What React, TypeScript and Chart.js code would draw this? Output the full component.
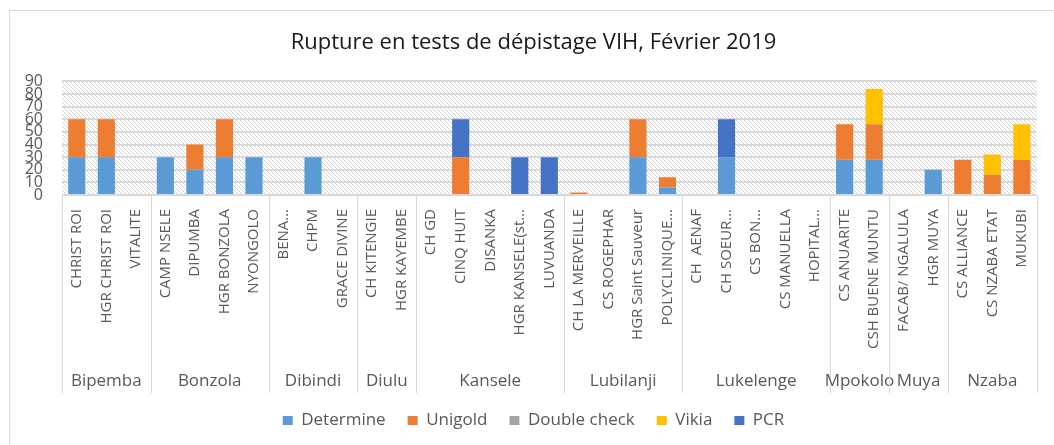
import React, { useEffect, useRef } from 'react';
import { Chart, registerables } from 'chart.js';
Chart.register(...registerables);

const title = 'Rupture en tests de dépistage VIH, Février 2019';

const categories = [
  'CHRIST ROI', 'HGR CHRIST ROI', 'VITALITE',
  'CAMP NSELE', 'DIPUMBA', 'HGR BONZOLA', 'NYONGOLO',
  'BENA…', 'CHPM', 'GRACE DIVINE',
  'CH KITENGIE', 'HGR KAYEMBE',
  'CH GD', 'CINQ HUIT', 'DISANKA', 'HGR KANSELE(st…', 'LUVUANDA',
  'CH LA MERVEILLE', 'CS ROGEPHAR', 'HGR Saint Sauveur', 'POLYCLINIQUE…',
  'CH  AENAF', 'CH SOEUR…', 'CS BON…', 'CS MANUELLA', 'HOPITAL…',
  'CS ANUARITE', 'CSH BUENE MUNTU',
  'FACAB/ NGALULA', 'HGR MUYA',
  'CS ALLIANCE', 'CS NZABA ETAT', 'MUKUBI',
];

const groups = ['Bipemba', 'Bonzola', 'Dibindi', 'Diulu', 'Kansele', 'Lubilanji', 'Lukelenge', 'Mpokolo', 'Muya', 'Nzaba'];
const groupSizes = [3, 4, 3, 2, 5, 4, 5, 2, 2, 3];

const determine = [30, 30, 0, 30, 20, 30, 30, 0, 30, 0, 0, 0, 0, 0, 0, 0, 0, 0, 0, 30, 6, 0, 30, 0, 0, 0, 28, 28, 0, 20, 0, 0, 0];
const unigold = [30, 30, 0, 0, 20, 30, 0, 0, 0, 0, 0, 0, 0, 30, 0, 0, 0, 2, 0, 30, 8, 0, 0, 0, 0, 0, 28, 28, 0, 0, 28, 16, 28];
const doubleCheck = [0, 0, 0, 0, 0, 0, 0, 0, 0, 0, 0, 0, 0, 0, 0, 0, 0, 0, 0, 0, 0, 0, 0, 0, 0, 0, 0, 0, 0, 0, 0, 0, 0];
const vikia = [0, 0, 0, 0, 0, 0, 0, 0, 0, 0, 0, 0, 0, 0, 0, 0, 0, 0, 0, 0, 0, 0, 0, 0, 0, 0, 0, 28, 0, 0, 0, 16, 28];
const pcr = [0, 0, 0, 0, 0, 0, 0, 0, 0, 0, 0, 0, 0, 30, 0, 30, 30, 0, 0, 0, 0, 0, 30, 0, 0, 0, 0, 0, 0, 0, 0, 0, 0];

const yMin = 0;
const yMax = 90;
const yStep = 10;

const FONT = "'Open Sans', 'Noto Sans', sans-serif";
const TEXT = '#595959';

function makeHatch(): CanvasPattern | string {
  const c = document.createElement('canvas');
  c.width = 4;
  c.height = 4;
  const g = c.getContext('2d');
  if (!g) return '#f4f4f4';
  g.fillStyle = '#ffffff';
  g.fillRect(0, 0, 4, 4);
  g.fillStyle = '#d2d2d2';
  for (let y = 0; y < 4; y++) {
    for (let x = 0; x < 4; x++) {
      if ((x - y + 8) % 4 === 0) g.fillRect(x, y, 1, 1);
    }
  }
  const p = g.createPattern(c, 'repeat');
  return p || '#f4f4f4';
}

export default function App() {
  const ref = useRef<HTMLCanvasElement>(null);
  useEffect(() => {
    document.body.style.margin = '0';
    const hatch = makeHatch();
    const X_AXIS_H = 195;
    const GROUP_BOX_H = 198;

    const framePlugin = {
      id: 'frame',
      beforeDraw(chart: any) {
        const { ctx, chartArea } = chart;
        ctx.save();
        ctx.fillStyle = '#ffffff';
        ctx.fillRect(0, 0, chart.width, chart.height);
        ctx.strokeStyle = '#d9d9d9';
        ctx.lineWidth = 1;
        ctx.strokeRect(9.5, 10.5, chart.width + 50, chart.height + 50);
        ctx.fillStyle = hatch;
        ctx.fillRect(chartArea.left, chartArea.top, chartArea.right - chartArea.left, chartArea.bottom - chartArea.top);
        ctx.restore();
      },
      afterDraw(chart: any) {
        const { ctx, chartArea } = chart;
        const xs = chart.scales.x;
        const step = xs.getPixelForValue(1) - xs.getPixelForValue(0);
        const top = chartArea.bottom;
        const bottom = chartArea.bottom + GROUP_BOX_H;
        ctx.save();
        ctx.strokeStyle = '#d9d9d9';
        ctx.lineWidth = 1;
        ctx.fillStyle = TEXT;
        ctx.font = `17px ${FONT}`;
        ctx.textAlign = 'center';
        ctx.textBaseline = 'middle';
        let idx = 0;
        for (let g = 0; g < groups.length; g++) {
          const left = xs.getPixelForValue(idx) - step / 2;
          const right = xs.getPixelForValue(idx + groupSizes[g] - 1) + step / 2;
          const lx = Math.round(left) + 0.5;
          ctx.beginPath();
          ctx.moveTo(lx, top);
          ctx.lineTo(lx, bottom);
          ctx.stroke();
          if (g === groups.length - 1) {
            const rx = Math.round(right) + 0.5;
            ctx.beginPath();
            ctx.moveTo(rx, top);
            ctx.lineTo(rx, bottom);
            ctx.stroke();
          }
          ctx.fillText(groups[g], (left + right) / 2, bottom - 12);
          idx += groupSizes[g];
        }
        ctx.restore();
      },
    };

    const chart = new Chart(ref.current as HTMLCanvasElement, {
      type: 'bar',
      data: {
        labels: categories,
        datasets: [
          { label: 'Determine', data: determine, backgroundColor: '#5B9BD5' },
          { label: 'Unigold', data: unigold, backgroundColor: '#ED7D31' },
          { label: 'Double check', data: doubleCheck, backgroundColor: '#A5A5A5' },
          { label: 'Vikia', data: vikia, backgroundColor: '#FFC000' },
          { label: 'PCR', data: pcr, backgroundColor: '#4472C4' },
        ],
      },
      options: {
        animation: false,
        responsive: false,
        devicePixelRatio: 1,
        layout: { padding: { left: 22, right: 9, top: 0, bottom: 6 } },
        datasets: { bar: { categoryPercentage: 1, barPercentage: 0.58, borderWidth: 0 } },
        plugins: {
          title: {
            display: true,
            text: title,
            color: '#1a1a1a',
            font: { family: FONT, size: 22, weight: 'normal', lineHeight: 1.2 },
            padding: { top: 30, bottom: 25 },
          },
          legend: {
            position: 'bottom',
            labels: {
              boxWidth: 10,
              boxHeight: 9,
              padding: 22,
              color: TEXT,
              font: { family: FONT, size: 17 },
            },
          },
          tooltip: { enabled: false },
        },
        scales: {
          x: {
            stacked: true,
            grid: { display: false, drawTicks: false },
            border: { display: false },
            ticks: {
              autoSkip: false,
              minRotation: 90,
              maxRotation: 90,
              padding: 14,
              color: TEXT,
              font: { family: FONT, size: 15 },
            },
            afterFit(scale: any) {
              scale.height = X_AXIS_H;
            },
          },
          y: {
            stacked: true,
            min: yMin,
            max: yMax,
            grid: { color: '#d9d9d9', lineWidth: 2, drawTicks: false },
            border: { display: false },
            ticks: {
              stepSize: yStep,
              autoSkip: false,
              padding: 19,
              color: TEXT,
              font: { family: FONT, size: 16 },
            },
            afterFit(scale: any) {
              scale.width = 40;
            },
          },
        },
      },
      plugins: [framePlugin],
    } as any);
    return () => chart.destroy();
  }, []);
  return <canvas ref={ref} width={1054} height={445} style={{ display: 'block' }} />;
}
